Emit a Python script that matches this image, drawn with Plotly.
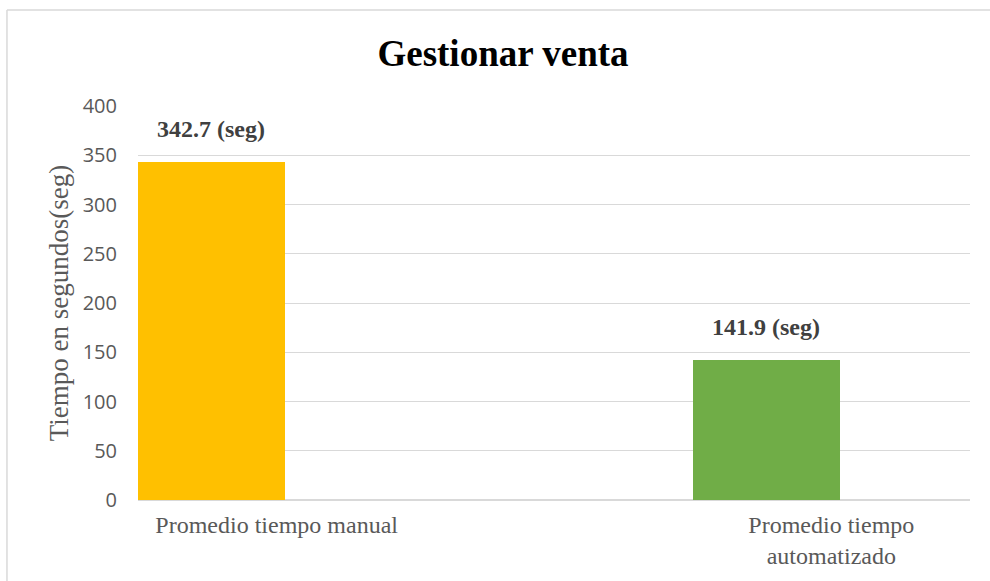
import plotly.graph_objects as go

# Data
categories = ["Promedio tiempo manual", "", "Promedio tiempo<br>automatizado"]
bar_positions = [0, 2]
bar_values = [342.7, 141.9]
bar_labels = ["342.7 (seg)", "141.9 (seg)"]
bar_colors = ["#FFC000", "#70AD47"]
y_ticks = [0, 50, 100, 150, 200, 250, 300, 350, 400]

BAR_OFFSET = -0.5
BAR_WIDTH = 0.53

fig = go.Figure()
fig.add_trace(go.Bar(
    x=bar_positions,
    y=bar_values,
    marker=dict(color=bar_colors, line=dict(width=0)),
    offset=BAR_OFFSET,
    width=BAR_WIDTH,
    hoverinfo="skip",
    showlegend=False,
))

for xpos, val, lab in zip(bar_positions, bar_values, bar_labels):
    fig.add_annotation(
        x=xpos + BAR_OFFSET + BAR_WIDTH / 2, y=val, xref="x", yref="y",
        text="<b>" + lab + "</b>", showarrow=False,
        yanchor="bottom", yshift=18,
        font=dict(family="Liberation Serif, Times New Roman, serif", size=24, color="#404040"),
    )

# chart border (top and left edges)
fig.add_shape(type="line", xref="paper", yref="paper", x0=-0.1575, x1=1.03, y0=1.2437, y1=1.2437,
              line=dict(color="#D9D9D9", width=1.5))
fig.add_shape(type="line", xref="paper", yref="paper", x0=-0.1575, x1=-0.1575, y0=-0.22, y1=1.2437,
              line=dict(color="#D9D9D9", width=1.5))

fig.update_layout(
    width=990, height=581,
    margin=dict(l=138, r=20, t=106, b=81),
    paper_bgcolor="white", plot_bgcolor="white",
    title=dict(
        text="<b>Gestionar venta</b>",
        x=503 / 990, xref="container", xanchor="center",
        y=1 - 53 / 581, yref="container", yanchor="middle",
        font=dict(family="Liberation Serif, Times New Roman, serif", size=37, color="#000000"),
    ),
    xaxis=dict(
        range=[-0.5, 2.5],
        tickmode="array", tickvals=[0, 1, 2], ticktext=categories,
        showgrid=False, zeroline=False, showline=False, ticks="",
        ticklabelstandoff=8, automargin=False,
        tickfont=dict(family="Liberation Serif, Times New Roman, serif", size=24, color="#595959"),
        fixedrange=True,
    ),
    yaxis=dict(
        range=[0, 400],
        tickmode="array", tickvals=y_ticks,
        showgrid=True, gridcolor="#D9D9D9", gridwidth=1.3,
        zeroline=True, zerolinecolor="#D9D9D9", zerolinewidth=1.5,
        showline=False, ticks="",
        ticklabelstandoff=20, automargin=False,
        tickfont=dict(family="Open Sans, sans-serif", size=20, color="#595959"),
        title=dict(text="Tiempo en segundos(seg)", standoff=6,
                   font=dict(family="Liberation Serif, Times New Roman, serif", size=27, color="#595959")),
        fixedrange=True,
    ),
    bargap=0,
)

fig.write_html("out.html", config={"displayModeBar": False},
               post_script="document.body.style.margin='0px';document.body.style.overflow='hidden';")
